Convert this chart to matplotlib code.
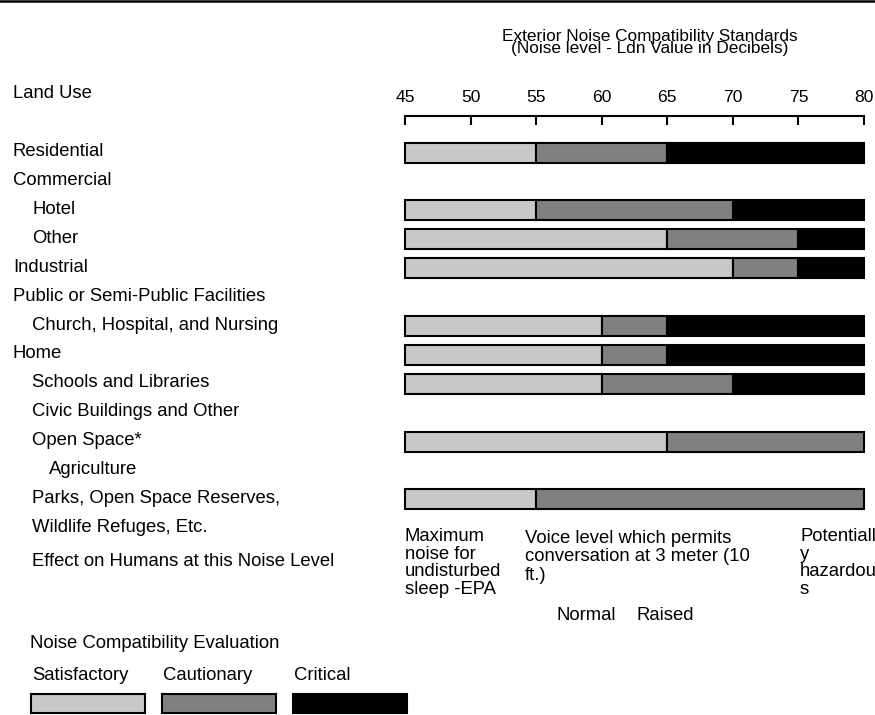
import matplotlib.pyplot as plt
import matplotlib.transforms as mtransforms
from matplotlib.lines import Line2D

plt.rcParams['font.family'] = ['Liberation Sans', 'DejaVu Sans']

# land use rows, top to bottom, with their indent level
land_use = ['Residential', 'Commercial', 'Hotel', 'Other', 'Industrial',
            'Public or Semi-Public Facilities', 'Church, Hospital, and Nursing',
            'Home', 'Schools and Libraries', 'Civic Buildings and Other',
            'Open Space*', 'Agriculture', 'Parks, Open Space Reserves,',
            'Wildlife Refuges, Etc.']
indent = [0, 0, 1, 1, 0, 0, 1, 0, 1, 1, 1, 2, 1, 1]

# rows that carry a bar and the Ldn value (dB) where each zone ends
bar_rows = [0, 2, 3, 4, 6, 7, 8, 10, 12]
satisfactory_to = [55, 55, 65, 70, 60, 60, 60, 65, 55]
cautionary_to = [65, 70, 75, 75, 65, 65, 70, 80, 80]
critical_to = [80, 80, 80, 80, 80, 80, 80, 80, 80]
scale_start = 45
ticks = [45, 50, 55, 60, 65, 70, 75, 80]

zone_names = ['Satisfactory', 'Cautionary', 'Critical']
zone_colors = ['#c8c8c8', '#808080', '#000000']

W, H = 875, 715
fs = 13.3


def fx(px):
    return px / W


def fy(py):
    return 1 - py / H


fig = plt.figure(figsize=(W / 100, H / 100), dpi=100)

# main axes: x is the dB scale, y is the row index (row pitch ~28.9 px)
ax = fig.add_axes([fx(405), 0, (864 - 405) / W, 1])
ax.set_xlim(45, 80)
ax.set_ylim((H - 149.7) / 28.9, -149.7 / 28.9)
ax.patch.set_visible(False)
for s in ['left', 'right', 'bottom']:
    ax.spines[s].set_visible(False)
ax.spines['top'].set_position(('data', (116 - 149.7) / 28.9))
ax.spines['top'].set_linewidth(1.5)
ax.set_yticks([])
ax.set_xticks(ticks)
ax.xaxis.tick_top()
ax.tick_params(axis='x', direction='in', length=6.5, width=1.5, pad=8,
               labelsize=12.6)

# stacked zone bars
ys = [r + 0.1 for r in bar_rows]
sat_w = [e - scale_start for e in satisfactory_to]
cau_w = [c - s for s, c in zip(satisfactory_to, cautionary_to)]
ax.barh(ys, sat_w, left=scale_start, height=0.69, color=zone_colors[0],
        edgecolor='black', linewidth=1.5, clip_on=False)
ax.barh(ys, cau_w, left=satisfactory_to, height=0.69, color=zone_colors[1],
        edgecolor='black', linewidth=1.5, clip_on=False)
crit = [(y, c, e - c) for y, c, e in zip(ys, cautionary_to, critical_to) if e > c]
ax.barh([c[0] for c in crit], [c[2] for c in crit], left=[c[1] for c in crit],
        height=0.69, color=zone_colors[2], edgecolor='black', linewidth=1.5,
        clip_on=False)

# land use labels
trans = mtransforms.blended_transform_factory(fig.transFigure, ax.transData)
indent_px = [13, 32, 49]
for r, (name, lvl) in enumerate(zip(land_use, indent)):
    ax.text(fx(indent_px[lvl]), r, name, transform=trans, ha='left',
            va='center_baseline', fontsize=fs)

# headers
fig.text(fx(13), fy(91.5), 'Land Use', ha='left', va='center_baseline', fontsize=fs)
fig.text(fx(650), fy(29.5),
         'Exterior Noise Compatibility Standards\n(Noise level - Ldn Value in Decibels)',
         ha='center', va='top', multialignment='center', fontsize=12.4,
         linespacing=0.75)

# effect on humans
fig.text(fx(32), fy(560), 'Effect on Humans at this Noise Level',
         ha='left', va='center_baseline', fontsize=fs)
fig.text(fx(405), fy(528), 'Maximum\nnoise for\nundisturbed\nsleep -EPA',
         ha='left', va='top', fontsize=fs, linespacing=1.05)
fig.text(fx(525), fy(530), 'Voice level which permits\nconversation at 3 meter (10\nft.)',
         ha='left', va='top', fontsize=fs, linespacing=1.1)
fig.text(fx(800), fy(528), 'Potentiall\ny\nhazardou\ns',
         ha='left', va='top', fontsize=fs, linespacing=1.05)
fig.text(fx(557), fy(613), 'Normal', ha='left', va='center_baseline', fontsize=fs)
fig.text(fx(637), fy(613), 'Raised', ha='left', va='center_baseline', fontsize=fs)

# legend
fig.text(fx(30), fy(642), 'Noise Compatibility Evaluation',
         ha='left', va='center_baseline', fontsize=fs)
axl = fig.add_axes([fx(31), 2 / H, (407 - 31) / W, 19 / H])
box_w = 114 / 131
axl.set_xlim(0, 2 + box_w)
axl.set_ylim(0, 1)
axl.axis('off')
axl.bar(range(3), 1, width=box_w, align='edge', color=zone_colors,
        edgecolor='black', linewidth=1.5, clip_on=False)
for i, name in enumerate(zone_names):
    axl.text(i + 1 / 131, 1 + 21 / 19, name, ha='left', va='center_baseline',
             fontsize=fs)

# rule at the top of the page
fig.add_artist(Line2D([0, 1], [fy(1), fy(1)], color='black', linewidth=1.8,
                      transform=fig.transFigure))

fig.savefig('out.png', dpi=100)
